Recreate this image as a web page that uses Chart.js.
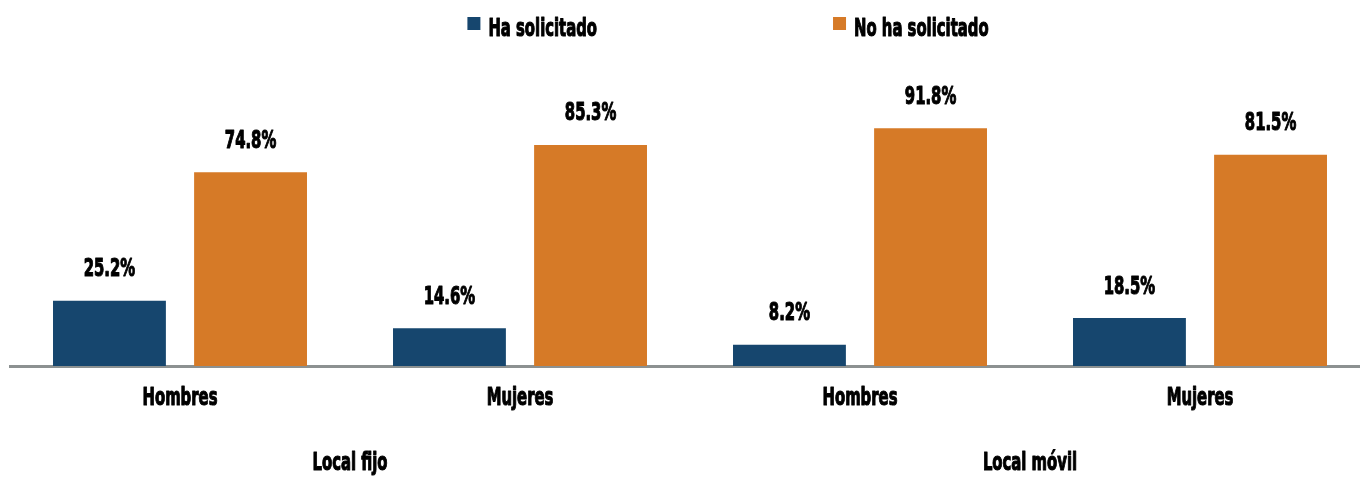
<!DOCTYPE html>
<html>
<head>
<meta charset="utf-8">
<script src="https://cdn.jsdelivr.net/npm/chart.js@4.4.1/dist/chart.umd.min.js"></script>
<style>
  html, body { margin: 0; padding: 0; background: #fff; overflow: hidden; }
  #wrap { width: 1370px; height: 477px; }
</style>
</head>
<body>
<div id="wrap"><canvas id="solicitudChart"></canvas></div>
<script>
// Data
const categories = ['Hombres', 'Mujeres', 'Hombres', 'Mujeres'];
const groups = ['Local fijo', 'Local móvil'];
const seriesNames = ['Ha solicitado', 'No ha solicitado'];
const haSolicitado = [25.2, 14.6, 8.2, 18.5];
const noHaSolicitado = [74.8, 85.3, 91.8, 81.5];

const FONT = "'DejaVu Sans Condensed', 'DejaVu Sans', sans-serif";
const TEXT_FONT = 'bold 25px ' + FONT;
const SQUEEZE = 0.66; // the original face is very narrow, squeeze text horizontally

function squeezedText(ctx, text, x, y, align) {
    ctx.save();
    ctx.translate(x, y);
    ctx.scale(SQUEEZE, 1);
    ctx.textAlign = align || 'center';
    // a thin stroke makes it closer to the heavy original face
    ctx.strokeStyle = ctx.fillStyle;
    ctx.lineWidth = 1.1;
    ctx.lineJoin = 'round';
    ctx.strokeText(text, 0, 0);
    ctx.fillText(text, 0, 0);
    ctx.restore();
}

// legend drawn by hand so the two items can sit far apart
const spreadLegend = {
    id: 'spreadLegend',
    afterDraw(chart) {
        const ctx = chart.ctx;
        const box = 13, gap = 236, center = 728;
        ctx.save();
        ctx.font = TEXT_FONT;
        ctx.textBaseline = 'middle';
        const items = chart.data.datasets.map(ds => ({
            text: ds.label, color: ds.backgroundColor,
            w: box + 8 + ctx.measureText(ds.label).width * SQUEEZE
        }));
        const total = items.reduce((s, it) => s + it.w, 0) + gap * (items.length - 1);
        let x = center - total / 2;
        items.forEach(it => {
            ctx.fillStyle = it.color;
            ctx.fillRect(x, 17, box, box);
            ctx.fillStyle = '#000';
            squeezedText(ctx, it.text, x + box + 8, 29, 'left');
            x += it.w + gap;
        });
        ctx.restore();
    }
};

// value labels above bars + axis labels (squeezed)
const textLabels = {
    id: 'textLabels',
    afterDatasetsDraw(chart) {
        const ctx = chart.ctx;
        ctx.save();
        ctx.font = TEXT_FONT;
        ctx.fillStyle = '#000';
        ctx.textBaseline = 'middle';
        chart.data.datasets.forEach((ds, i) => {
            chart.getDatasetMeta(i).data.forEach((bar, j) => {
                squeezedText(ctx, ds.data[j].toFixed(1) + '%', bar.x, bar.y - 31);
            });
        });
        const x = chart.scales.x, x2 = chart.scales.x2;
        categories.forEach((c, i) => squeezedText(ctx, c, x.getPixelForTick(i), x.top + 32));
        groups.forEach((g, i) => squeezedText(ctx, g, x2.getPixelForTick(i), x2.top + 52));
        ctx.restore();
    }
};

const ctx = document.getElementById('solicitudChart').getContext('2d');

const solicitudChart = new Chart(ctx, {
    type: 'bar',
    data: {
        labels: categories,
        datasets: [{
            label: seriesNames[0],
            data: haSolicitado,
            backgroundColor: '#16466E',
        }, {
            label: seriesNames[1],
            data: noHaSolicitado,
            backgroundColor: '#D67A27',
        }],
    },
    options: {
        responsive: true,
        maintainAspectRatio: false,
        animation: false,
        categoryPercentage: 0.83,
        barPercentage: 0.8,
        layout: { padding: { top: 81, left: 10, right: 0, bottom: 2 } },
        plugins: {
            legend: { display: false },
            tooltip: { enabled: false },
        },
        scales: {
            y: { display: false, min: 0, max: 110 },
            x: {
                grid: { display: false, drawTicks: false },
                border: { display: true, color: '#8C9191', width: 3 },
                ticks: { display: false },
                afterFit: s => { s.height = 45; },
            },
            x2: {
                type: 'category',
                labels: groups,
                position: 'bottom',
                grid: { display: false, drawTicks: false },
                border: { display: false },
                ticks: { display: false },
                afterFit: s => { s.height = 64; },
            },
        },
    },
    plugins: [spreadLegend, textLabels],
});
</script>
</body>
</html>
